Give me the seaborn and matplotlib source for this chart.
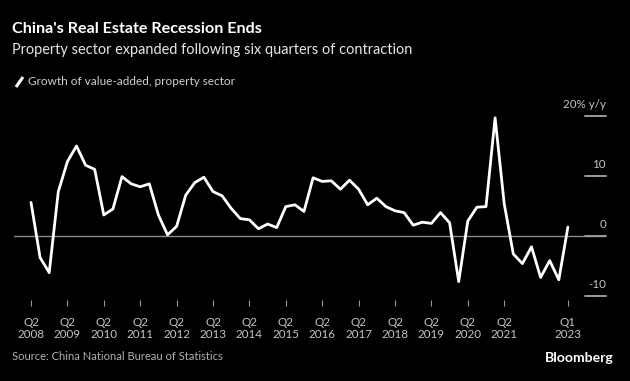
import numpy as np
import pandas as pd
import matplotlib
matplotlib.use("Agg")
import matplotlib.pyplot as plt
import matplotlib.transforms as mtransforms
import seaborn as sns

# ---- data (Q2 2008 .. Q1 2023), y/y % growth ----
growth = [5.6, -3.6, -6.1, 7.4, 12.4, 15.0, 11.8, 11.1, 3.5, 4.5,
          9.9, 8.7, 8.2, 8.7, 3.5, 0.2, 1.6, 6.8, 8.9, 9.8,
          7.4, 6.7, 4.6, 2.9, 2.7, 1.2, 2.0, 1.4, 4.9, 5.2,
          4.1, 9.7, 9.1, 9.2, 7.8, 9.3, 7.8, 5.2, 6.3, 4.9,
          4.2, 3.9, 1.8, 2.3, 2.1, 3.9, 2.2, -7.6, 2.5, 4.8,
          4.9, 19.7, 5.4, -3.0, -4.6, -1.8, -6.9, -4.1, -7.3, 1.5]
quarter_idx = list(range(len(growth)))
tick_pos = [0, 4, 8, 12, 16, 20, 24, 28, 32, 36, 40, 44, 48, 52, 59]
tick_labels = ["Q2\n2008", "Q2\n2009", "Q2\n2010", "Q2\n2011", "Q2\n2012",
               "Q2\n2013", "Q2\n2014", "Q2\n2015", "Q2\n2016", "Q2\n2017",
               "Q2\n2018", "Q2\n2019", "Q2\n2020", "Q2\n2021", "Q1\n2023"]
y_ticks = [20, 10, 0, -10]
y_tick_labels = ["20% y/y", "10", "0", "-10"]

df = pd.DataFrame({"q": quarter_idx, "growth": growth})

sns.set_theme(style="dark")
FONT = ["Lato", "DejaVu Sans"]
plt.rcParams["font.family"] = FONT

W, H = 630, 381
fig = plt.figure(figsize=(W / 100, H / 100), dpi=100, facecolor="black")
renderer = fig.canvas.get_renderer()

def fit(t, target_px):
    """scale font so that the text spans target_px pixels"""
    w = t.get_window_extent(renderer=renderer).width
    t.set_fontsize(t.get_fontsize() * target_px / w)
    return t.get_fontsize()

def px(x0, y0, x1, y1):
    return [x0 / W, 1 - y1 / H, (x1 - x0) / W, (y1 - y0) / H]

ax = fig.add_axes(px(14, 100, 606, 300))
ax.set_facecolor("black")
for s in ax.spines.values():
    s.set_visible(False)
ax.grid(False)

ax.axhline(0, color="#8a8a8a", lw=1.0, zorder=1)
sns.lineplot(data=df, x="q", y="growth", ax=ax, color="white", lw=2.0, zorder=3)

ax.set_xlim((14 - 31) / 9.1, (606 - 31) / 9.1)
ax.set_ylim((236 - 300) / 6, (236 - 100) / 6)
ax.set_xlabel("")
ax.set_ylabel("")
ax.set_yticks([])

# tick label font size: "2008" about 27 px wide
probe = fig.text(0, 0, "2008", fontsize=10)
tick_fs = fit(probe, 27)
probe.remove()

ax.set_xticks(tick_pos)
ax.set_xticklabels(tick_labels, color="#c4c4c4", fontsize=tick_fs, linespacing=1.1)
ax.tick_params(axis="x", length=4, width=0.8, color="#9a9a9a", pad=8, bottom=True)

# right-side y tick segments & labels
trans = mtransforms.blended_transform_factory(ax.transAxes, ax.transData)
for v, lab in zip(y_ticks, y_tick_labels):
    ax.plot([(585 - 14) / 592, 1.0], [v, v], transform=trans, color="#9a9a9a",
            lw=1.4, clip_on=False, zorder=2)
    ax.annotate(lab, xy=(1.0, v), xycoords=trans, xytext=(0, 5.5),
                textcoords="offset points", ha="right", va="baseline",
                color="#c4c4c4", fontsize=tick_fs, annotation_clip=False)

# titles
t1 = fig.text(12 / W, 1 - 33 / H, "China's Real Estate Recession Ends", color="white",
              fontsize=13, fontweight="bold", ha="left", va="baseline")
fit(t1, 250)
t2 = fig.text(12 / W, 1 - 54 / H, "Property sector expanded following six quarters of contraction",
              color="#e6e6e6", fontsize=11.5, ha="left", va="baseline")
fit(t2, 400)

# legend
fig.add_artist(plt.Line2D([16 / W, 23 / W], [1 - 87 / H, 1 - 77 / H], color="white",
                          lw=2.2, solid_capstyle="butt"))
t3 = fig.text(28 / W, 1 - 85 / H, "Growth of value-added, property sector", color="#d0d0d0",
              fontsize=9.8, ha="left", va="baseline")
fit(t3, 207)

# footer
t4 = fig.text(12 / W, 1 - 360 / H, "Source: China National Bureau of Statistics", color="#b0b0b0",
              fontsize=9.8, ha="left", va="baseline")
fit(t4, 210)
t5 = fig.text(614 / W, 1 - 362 / H, "Bloomberg", color="white", fontsize=10,
              fontweight="bold", ha="right", va="baseline")
fit(t5, 69)

fig.savefig("out.png", dpi=100, facecolor="black")
